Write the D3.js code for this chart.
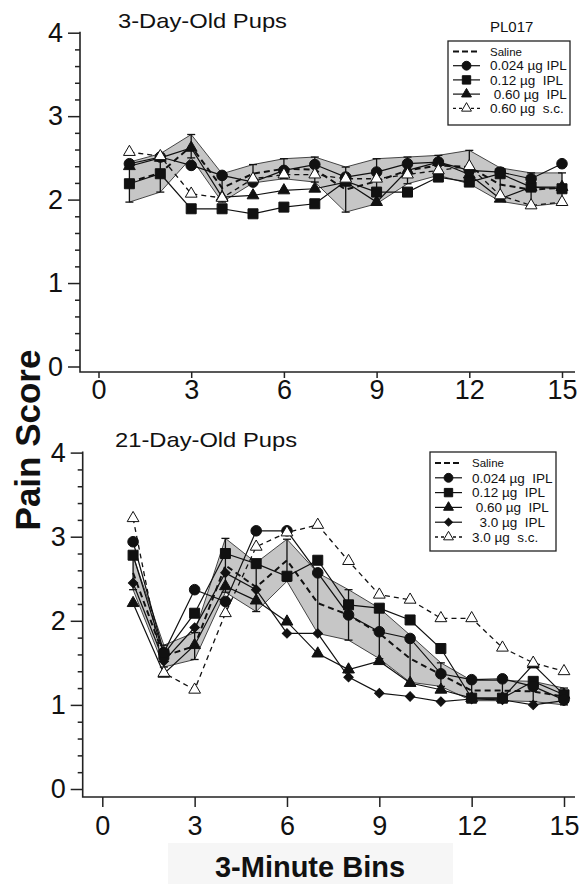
<!DOCTYPE html>
<html>
<head>
<meta charset="utf-8">
<script src="https://cdn.jsdelivr.net/npm/d3@7"></script>
<style>
  body { margin: 0; background: #fff; }
  svg { display: block; font-family: Arial, "Liberation Sans", Helvetica, sans-serif; }
</style>
</head>
<body>
<svg id="chart" width="581" height="884"></svg>
<script>
// ---- data ---------------------------------------------------------------
const bins = [1, 2, 3, 4, 5, 6, 7, 8, 9, 10, 11, 12, 13, 14, 15];
const xTicks = [0, 3, 6, 9, 12, 15];
const yTicks = [0, 1, 2, 3, 4];
const yMinorTicks = [0.2, 0.4, 0.6, 0.8, 1.2, 1.4, 1.6, 1.8, 2.2, 2.4, 2.6, 2.8, 3.2, 3.4, 3.6, 3.8];

// 3-day-old pups
const p3Saline    = [2.21, 2.32, 2.64, 2.14, 2.31, 2.37, 2.36, 2.12, 2.22, 2.35, 2.41, 2.39, 2.18, 2.12, 2.14];
const p3SalineSem = [0.24, 0.23, 0.14, 0.17, 0.11, 0.12, 0.15, 0.27, 0.27, 0.16, 0.12, 0.20, 0.20, 0.20, 0.18];
const p3Ipl024    = [2.43, 2.51, 2.41, 2.29, 2.21, 2.35, 2.42, 2.27, 2.33, 2.43, 2.45, 2.35, 2.33, 2.25, 2.43];
const p3Ipl012    = [2.19, 2.31, 1.89, 1.89, 1.83, 1.91, 1.95, 2.22, 2.09, 2.09, 2.27, 2.21, 2.31, 2.15, 2.13];
const p3Ipl060    = [2.40, 2.50, 2.62, 2.03, 2.05, 2.11, 2.13, 2.21, 1.97, 2.35, 2.45, 2.30, 2.01, 2.15, 2.15];
const p3Sc060     = [2.57, 2.52, 2.07, 2.02, 2.25, 2.30, 2.30, 2.25, 2.25, 2.30, 2.35, 2.40, 2.05, 1.93, 1.97];
const p3Legend = ["Saline", "0.024 µg IPL", "0.12 µg  IPL", " 0.60 µg  IPL", "0.60 µg  s.c."];

// 21-day-old pups
const p21Saline    = [2.57, 1.58, 1.70, 2.66, 2.40, 2.72, 2.21, 2.07, 1.85, 1.55, 1.36, 1.17, 1.17, 1.16, 1.10];
const p21SalineSem = [0.20, 0.13, 0.16, 0.32, 0.29, 0.25, 0.36, 0.30, 0.30, 0.28, 0.14, 0.12, 0.12, 0.12, 0.10];
const p21Ipl024    = [2.94, 1.62, 2.37, 2.23, 3.07, 3.07, 2.57, 2.07, 1.87, 1.79, 1.37, 1.30, 1.31, 1.22, 1.06];
const p21Ipl012    = [2.78, 1.60, 2.09, 2.80, 2.68, 2.53, 2.72, 2.19, 2.15, 2.01, 1.67, 1.08, 1.08, 1.28, 1.12];
const p21Ipl060    = [2.21, 1.37, 1.71, 2.41, 2.24, 1.99, 1.61, 1.42, 1.52, 1.26, 1.18, 1.08, 1.08, 1.48, 1.12];
const p21Ipl30     = [2.45, 1.52, 1.92, 2.57, 2.37, 1.85, 1.85, 1.33, 1.14, 1.10, 1.04, 1.07, 1.06, 1.00, 1.05];
const p21Sc30      = [3.22, 1.38, 1.18, 2.09, 2.88, 3.05, 3.14, 2.71, 2.31, 2.25, 2.03, 2.03, 1.68, 1.50, 1.40];
const p21Legend = ["Saline", "0.024 µg  IPL", "0.12 µg  IPL", " 0.60 µg  IPL", "  3.0 µg  IPL", "3.0 µg  s.c."];

// ---- styles --------------------------------------------------------------
const ink = "#111";
const bandFill = "#c6c6c6";

const styles = {
  saline:  { shape: null,       fill: ink,    dash: "6,4", width: 2.0 },
  circle:  { shape: "circle",   fill: ink,    dash: null,  width: 1.2 },
  square:  { shape: "square",   fill: ink,    dash: null,  width: 1.2 },
  tri:     { shape: "triangle", fill: ink,    dash: null,  width: 1.2 },
  diamond: { shape: "diamond",  fill: ink,    dash: null,  width: 1.2 },
  openTri: { shape: "triangle", fill: "#fff", dash: "5,4", width: 1.3 }
};

function markerPath(shape, scale = 1) {
  if (shape === "circle") return d3.symbol().type(d3.symbolCircle).size(88 * scale)();
  if (shape === "square") return d3.symbol().type(d3.symbolSquare).size(100 * scale)();
  if (shape === "triangle") return d3.symbol().type(d3.symbolTriangle).size(60 * scale)();
  if (shape === "diamond") return d3.symbol().type(d3.symbolSquare).size(44 * scale)();
  return null;
}

function markerTransform(shape, px, py) {
  return `translate(${px},${py})` + (shape === "diamond" ? " rotate(45)" : "");
}

// ---- panels --------------------------------------------------------------
const panels = [
  {
    title: "3-Day-Old Pups", titleX: 118, titleY: 28, titleLen: 169,
    xRange: [98.5, 562], yRange: [366.5, 32.7], axisX: 80, axisY: 372, axisEnd: 575,
    tickLen: 6, tickPad: 2,
    saline: p3Saline, sem: p3SalineSem,
    series: [
      { vals: p3Ipl060, style: styles.tri },
      { vals: p3Ipl012, style: styles.square },
      { vals: p3Ipl024, style: styles.circle },
      { vals: p3Sc060,  style: styles.openTri }
    ],
    legend: { x: 448, y: 41, w: 122, h: 84, rowY: 51.5, rowH: 14.2, lineX: [453, 480], textX: 490,
      labels: p3Legend, styles: [styles.saline, styles.circle, styles.square, styles.tri, styles.openTri] }
  },
  {
    title: "21-Day-Old Pups", titleX: 115, titleY: 447, titleLen: 182,
    xRange: [102.3, 564], yRange: [789, 452.6], axisX: 82.7, axisY: 797, axisEnd: 575,
    tickLen: 10, tickPad: 9,
    saline: p21Saline, sem: p21SalineSem,
    series: [
      { vals: p21Ipl30,  style: styles.diamond },
      { vals: p21Ipl060, style: styles.tri },
      { vals: p21Ipl012, style: styles.square },
      { vals: p21Ipl024, style: styles.circle },
      { vals: p21Sc30,   style: styles.openTri }
    ],
    legend: { x: 430, y: 452, w: 126, h: 99, rowY: 463, rowH: 14.8, lineX: [435, 462], textX: 472,
      labels: p21Legend, styles: [styles.saline, styles.circle, styles.square, styles.tri, styles.diamond, styles.openTri] }
  }
];

const svg = d3.select("#chart");

function drawPanel(p) {
  const g = svg.append("g").attr("class", "panel");

  const x = d3.scaleLinear().domain([0, 15]).range(p.xRange);
  const y = d3.scaleLinear().domain([0, 4]).range(p.yRange);

  // axes: major + minor ticks, axis lines drawn by hand so they meet in the corner
  g.append("g")
    .attr("transform", `translate(${p.axisX},0)`)
    .call(d3.axisLeft(y).tickValues(yTicks).tickSize(12).tickPadding(5).tickFormat(d3.format("d")));
  g.append("g")
    .attr("transform", `translate(${p.axisX},0)`)
    .call(d3.axisLeft(y).tickValues(yMinorTicks).tickSize(5).tickFormat(""));
  g.append("g")
    .attr("transform", `translate(0,${p.axisY})`)
    .call(d3.axisBottom(x).tickValues(xTicks).tickSize(p.tickLen).tickPadding(p.tickPad));

  g.selectAll(".domain").remove();
  g.selectAll(".tick line").attr("stroke", "#222").attr("stroke-width", 1.5);
  g.selectAll(".tick text").attr("fill", ink).attr("font-size", 27)
    .attr("font-family", "Arial, 'Liberation Sans', sans-serif");

  g.append("path")
    .attr("d", `M${p.axisX},${y(4) - 1}V${p.axisY}H${p.axisEnd}`)
    .attr("fill", "none").attr("stroke", "#222").attr("stroke-width", 1.6);

  // saline mean +/- SEM band
  const rows = bins.map((b, i) => ({ bin: b, mean: p.saline[i], lo: p.saline[i] - p.sem[i], hi: p.saline[i] + p.sem[i] }));

  g.append("path")
    .datum(rows)
    .attr("fill", bandFill)
    .attr("d", d3.area().x(d => x(d.bin)).y0(d => y(d.lo)).y1(d => y(d.hi)));
  ["lo", "hi"].forEach(k => {
    g.append("path")
      .datum(rows)
      .attr("fill", "none").attr("stroke", "#333").attr("stroke-width", 0.9)
      .attr("d", d3.line().x(d => x(d.bin)).y(d => y(d[k])));
  });

  // treatment lines
  const line = d3.line().x(d => x(d.bin)).y(d => y(d.v));
  p.series.forEach(s => {
    g.append("path")
      .datum(bins.map((b, i) => ({ bin: b, v: s.vals[i] })))
      .attr("fill", "none").attr("stroke", ink)
      .attr("stroke-width", s.style.width)
      .attr("stroke-dasharray", s.style.dash)
      .attr("d", line);
  });

  // saline dashed mean + error bars
  g.append("path")
    .datum(rows.map(d => ({ bin: d.bin, v: d.mean })))
    .attr("fill", "none").attr("stroke", ink)
    .attr("stroke-width", styles.saline.width)
    .attr("stroke-dasharray", styles.saline.dash)
    .attr("d", line);

  const err = g.append("g").selectAll("g").data(rows).join("g")
    .attr("stroke", ink).attr("stroke-width", 1.3);
  err.append("line")
    .attr("x1", d => x(d.bin)).attr("x2", d => x(d.bin))
    .attr("y1", d => y(d.lo)).attr("y2", d => y(d.hi));
  ["lo", "hi"].forEach(k => {
    err.append("line")
      .attr("x1", d => x(d.bin) - 4).attr("x2", d => x(d.bin) + 4)
      .attr("y1", d => y(d[k])).attr("y2", d => y(d[k]));
  });

  // markers on top
  p.series.forEach(s => {
    g.append("g").selectAll("path")
      .data(bins.map((b, i) => ({ bin: b, v: s.vals[i] })))
      .join("path")
      .attr("d", markerPath(s.style.shape))
      .attr("transform", d => markerTransform(s.style.shape, x(d.bin), y(d.v)))
      .attr("fill", s.style.fill)
      .attr("stroke", ink).attr("stroke-width", 1);
  });

  // panel title
  g.append("text")
    .attr("x", p.titleX).attr("y", p.titleY)
    .attr("font-size", 21)
    .attr("textLength", p.titleLen).attr("lengthAdjust", "spacingAndGlyphs")
    .attr("fill", ink)
    .text(p.title);

  drawLegend(g, p.legend);
}

function drawLegend(g, L) {
  const entries = L.labels.map((label, i) => ({ label, style: L.styles[i], first: i === 0 }));
  const mid = (L.lineX[0] + L.lineX[1]) / 2;

  const lg = g.append("g").attr("class", "legend");
  lg.append("rect")
    .attr("x", L.x).attr("y", L.y).attr("width", L.w).attr("height", L.h)
    .attr("fill", "#fff").attr("stroke", "#222").attr("stroke-width", 1.3);

  const rows = lg.selectAll(".row").data(entries).join("g")
    .attr("class", "row")
    .attr("transform", (d, i) => `translate(0,${L.rowY + i * L.rowH})`);

  rows.append("line")
    .attr("x1", L.lineX[0]).attr("x2", L.lineX[1])
    .attr("stroke", ink)
    .attr("stroke-width", d => d.style.width)
    .attr("stroke-dasharray", d => d.style.dash ? (d.first ? "6,3" : "3,3") : null);

  rows.filter(d => d.style.shape)
    .append("path")
    .attr("d", d => markerPath(d.style.shape, 0.7))
    .attr("transform", d => markerTransform(d.style.shape, mid, 0))
    .attr("fill", d => d.style.fill)
    .attr("stroke", ink).attr("stroke-width", 1);

  rows.append("text")
    .attr("x", L.textX).attr("dy", "0.35em")
    .attr("font-size", d => d.first ? 11.5 : 13.5)
    .attr("fill", ink)
    .style("white-space", "pre")
    .text(d => d.label);
}

panels.forEach(drawPanel);

// shared labels
svg.append("text")
  .attr("x", 490).attr("y", 32)
  .attr("font-size", 15).attr("fill", ink)
  .text("PL017");

svg.append("text")
  .attr("transform", "translate(40,440) rotate(-90)")
  .attr("text-anchor", "middle")
  .attr("font-size", 35).attr("font-weight", "bold").attr("fill", ink)
  .text("Pain Score");

svg.append("rect")
  .attr("x", 168).attr("y", 843).attr("width", 285).attr("height", 41)
  .attr("fill", "#f6f6f6");
svg.append("text")
  .attr("x", 310).attr("y", 877)
  .attr("text-anchor", "middle")
  .attr("font-size", 29).attr("font-weight", "bold").attr("fill", ink)
  .text("3-Minute Bins");
</script>
</body>
</html>
